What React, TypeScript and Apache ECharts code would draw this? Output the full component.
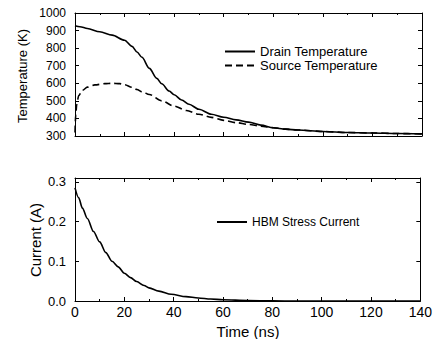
import React, { useEffect, useRef } from "react";
import * as echarts from "echarts";

const tempTime = [0, 2, 5, 10, 15, 20, 23, 25, 27, 30, 33, 35, 38, 40, 43, 46, 50, 55, 60, 65, 70, 75, 80, 85, 90, 100, 110, 120, 130, 140];
const drainTemp = [928, 922, 912, 893, 874, 845, 810, 778, 748, 685, 628, 597, 556, 535, 505, 481, 452, 424, 407, 392, 379, 362, 347, 339, 334, 326, 320, 317, 314, 312];

const sourceTime = [0, 0.3, 0.7, 1.5, 3, 5, 8, 12, 15, 18, 20, 23, 25, 27, 30, 35, 40, 45, 50, 55, 60, 65, 70, 75, 80, 85, 90, 100, 110, 120, 130, 140];
const sourceTemp = [320, 420, 480, 530, 560, 578, 591, 598, 600, 598, 592, 577, 565, 552, 536, 500, 470, 445, 424, 406, 389, 376, 366, 356, 347, 339, 334, 326, 320, 317, 314, 312];

const currentTime = [0, 1.5, 3, 5, 7.5, 10, 12.5, 15, 17.5, 20, 22.5, 25, 28, 30, 34, 39, 45, 50, 55, 60, 70, 80, 90, 140];
const currentVals = [0.285, 0.26, 0.234, 0.208, 0.175, 0.149, 0.122, 0.1, 0.086, 0.07, 0.059, 0.049, 0.039, 0.033, 0.025, 0.017, 0.011, 0.0076, 0.005, 0.003, 0.0012, 0.0003, 0, 0];

const xTicks = [0, 20, 40, 60, 80, 100, 120, 140];
const tempTicks = [300, 400, 500, 600, 700, 800, 900, 1000];
const currentTicks = [0, 0.1, 0.2, 0.3];

const FONT = "'Liberation Sans', Arial, Helvetica, sans-serif";

const zip = (xs: number[], ys: number[]) => xs.map((x, i) => [x, ys[i]]);

export default function App() {
  const ref = useRef<HTMLDivElement>(null);
  useEffect(() => {
    if (!ref.current) return;
    const chart = echarts.init(ref.current, undefined, { renderer: "svg" });
    const black = "#000";
    const axisLine = { show: true, onZero: false, lineStyle: { color: black, width: 1 } };
    const axisTick = { show: true, inside: true, length: 4, lineStyle: { color: black, width: 1 } };
    const minorTick = { show: true, splitNumber: 2, length: 2, lineStyle: { color: black, width: 1 } };

    const xBase = (gridIndex: number, position: string, showLabel: boolean) => ({
      type: "value",
      gridIndex,
      position,
      min: xTicks[0],
      max: xTicks[xTicks.length - 1],
      interval: 20,
      axisLine,
      axisTick,
      minorTick,
      splitLine: { show: false },
      axisLabel: {
        show: showLabel,
        color: black,
        fontSize: 14,
        fontFamily: FONT,
        margin: 4,
      },
    });

    const yTemp = (position: string, showLabel: boolean) => ({
      type: "value",
      gridIndex: 0,
      position,
      min: tempTicks[0],
      max: tempTicks[tempTicks.length - 1],
      interval: 100,
      axisLine,
      axisTick,
      splitLine: { show: false },
      axisLabel: {
        show: showLabel,
        color: black,
        fontSize: 12,
        fontFamily: FONT,
        margin: 9,
        formatter: (v: number) => String(v),
      },
    });

    const yCur = (position: string, showLabel: boolean) => ({
      type: "value",
      gridIndex: 1,
      position,
      min: currentTicks[0],
      max: 0.31,
      interval: 0.1,
      axisLine,
      axisTick,
      splitLine: { show: false },
      axisLabel: {
        show: showLabel,
        showMaxLabel: false,
        color: black,
        fontSize: 13,
        fontFamily: FONT,
        margin: 9,
        formatter: (v: number) =>
          Math.abs(v * 10 - Math.round(v * 10)) < 1e-6 ? v.toFixed(1) : "",
      },
    });

    const textStyle = (size: number) => ({
      fontSize: size,
      fontFamily: FONT,
      fill: black,
      align: "center",
      verticalAlign: "middle",
      textAlign: "center",
      textVerticalAlign: "middle",
    });

    chart.setOption({
      animation: false,
      backgroundColor: "#fff",
      textStyle: { fontFamily: FONT },
      grid: [
        { left: 75, top: 13, width: 347, height: 123 },
        { left: 75, top: 178, width: 347, height: 123 },
      ],
      xAxis: [xBase(0, "bottom", false), xBase(0, "top", false), xBase(1, "bottom", true), xBase(1, "top", false)],
      yAxis: [yTemp("left", true), yTemp("right", false), yCur("left", true), yCur("right", false)],
      legend: [
        {
          orient: "vertical",
          left: 224,
          top: 45,
          padding: 0,
          itemWidth: 30,
          itemHeight: 10,
          itemGap: 1,
          itemStyle: { opacity: 0 },
          data: ["Drain Temperature", "Source Temperature"],
          textStyle: { color: black, fontSize: 13, fontFamily: FONT },
        },
        {
          orient: "vertical",
          left: 216,
          top: 216,
          padding: 0,
          itemWidth: 30,
          itemHeight: 10,
          itemStyle: { opacity: 0 },
          data: ["HBM Stress Current"],
          textStyle: { color: black, fontSize: 12, fontFamily: FONT },
        },
      ],
      graphic: [
        { type: "text", x: 22, y: 76, rotation: Math.PI / 2, style: { text: "Temperature (K)", ...textStyle(13) } },
        { type: "text", x: 35.5, y: 240, rotation: Math.PI / 2, style: { text: "Current (A)", ...textStyle(15) } },
        { type: "text", x: 248, y: 331.5, style: { text: "Time (ns)", ...textStyle(15) } },
      ],
      series: [
        {
          name: "Drain Temperature",
          type: "line",
          xAxisIndex: 0,
          yAxisIndex: 0,
          data: zip(tempTime, drainTemp),
          symbol: "none",
          smooth: 0.3,
          smoothMonotone: "x",
          lineStyle: { color: black, width: 1.6 },
          itemStyle: { color: black },
        },
        {
          name: "Source Temperature",
          type: "line",
          xAxisIndex: 0,
          yAxisIndex: 0,
          data: zip(sourceTime, sourceTemp),
          symbol: "none",
          smooth: 0.3,
          smoothMonotone: "x",
          lineStyle: { color: black, width: 1.6, type: [7, 4] },
          itemStyle: { color: black },
        },
        {
          name: "HBM Stress Current",
          type: "line",
          xAxisIndex: 2,
          yAxisIndex: 2,
          data: zip(currentTime, currentVals),
          symbol: "none",
          smooth: 0.3,
          smoothMonotone: "x",
          lineStyle: { color: black, width: 1.6 },
          itemStyle: { color: black },
        },
      ],
    });
    return () => chart.dispose();
  }, []);

  return (
    <div
      ref={ref}
      style={{ position: "absolute", left: 0, top: 0, width: 435, height: 339, background: "#fff" }}
    />
  );
}
